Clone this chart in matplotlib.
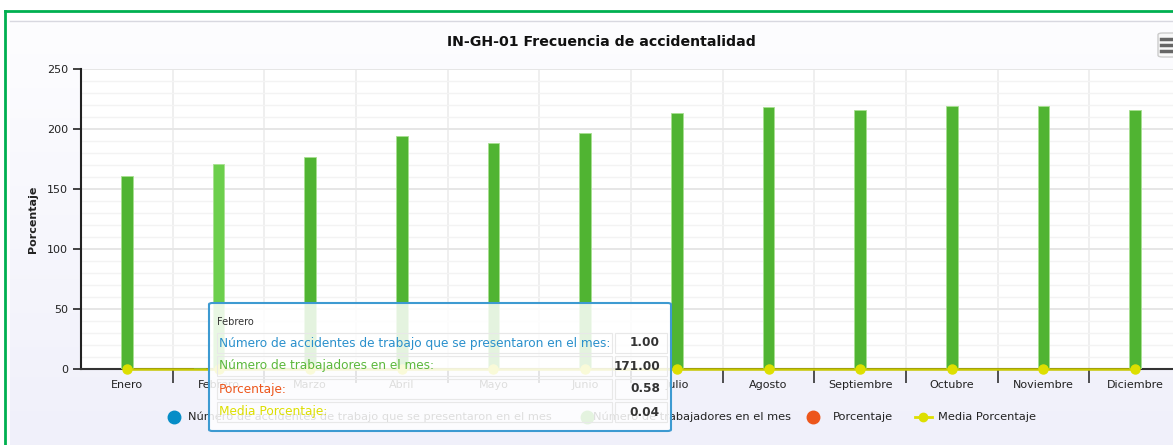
import numpy as np
import matplotlib
matplotlib.use('Agg')
import matplotlib.pyplot as plt
from matplotlib.patches import Rectangle, FancyBboxPatch
from matplotlib.lines import Line2D

meses = ['Enero', 'Febrero', 'Marzo', 'Abril', 'Mayo', 'Junio', 'Julio',
         'Agosto', 'Septiembre', 'Octubre', 'Noviembre', 'Diciembre']
accidentes = [0, 1, 0, 0, 0, 0, 0, 0, 0, 0, 0, 0]
trabajadores = [161, 171, 177, 194, 188, 197, 213, 218, 216, 219, 219, 216]
porcentaje = [0, 0.58, 0, 0, 0, 0, 0, 0, 0, 0, 0, 0]
media = [0.04, 0.04, 0.04, 0.04, 0.04, 0.04, 0.04, 0.04, 0.04, 0.04, 0.04, 0.04]

series_names = ['Número de accidentes de trabajo que se presentaron en el mes',
                'Número de trabajadores en el mes', 'Porcentaje', 'Media Porcentaje']
colors = ['#058DC7', '#50B432', '#ED561B', '#DDDF00']

W, H = 1173, 445
fig = plt.figure(figsize=(W / 100, H / 100), dpi=100)
plt.rcParams['font.family'] = ['DejaVu Sans']

def fx(x):
    return x / W

def fy(y):
    return 1 - y / H

# outer container + green border
grad = np.linspace(0, 1, 100).reshape(-1, 1)
bg = fig.add_axes([fx(10), 0, 1 - fx(10), fy(20)], zorder=-5)
bg.imshow(grad, aspect='auto', extent=[0, 1, 0, 1], origin='upper',
          cmap=matplotlib.colors.LinearSegmentedColormap.from_list('g', ['#fdfdff', '#f0f0fa']))
bg.axis('off')
fig.add_artist(Line2D([fx(10), 1], [fy(20.5), fy(20.5)], color='#d8d8e0', lw=1, zorder=-1))
fig.add_artist(Line2D([fx(5), 1], [fy(10.5), fy(10.5)], color='#00b050', lw=2))
fig.add_artist(Line2D([fx(5), fx(5)], [fy(10.5), 0], color='#00b050', lw=2))

# plot area
left, right, top, bottom = 81, 1181, 69, 369
ax = fig.add_axes([fx(left), fy(bottom), fx(right - left), fy(top) - fy(bottom)])
ax.set_facecolor('white')
x = np.arange(len(meses))
bw = 0.13
ax.bar(x - 0.2, accidentes, bw, color=colors[0], zorder=3)
bcols = [colors[1]] * len(meses)
bcols[1] = '#6ccf4c'
ax.bar(x, trabajadores, bw, color=bcols, edgecolor='#a8e090', linewidth=0.6, zorder=3)
ax.bar(x + 0.2, porcentaje, bw, color=colors[2], zorder=3)
ax.plot(x, media, color='#c8c800', lw=1.8, marker='o', ms=6.5,
        markerfacecolor=colors[3], markeredgecolor=colors[3], zorder=4, clip_on=False)

ax.set_xlim(-0.5, len(meses) - 0.5)
ax.set_ylim(0, 250)
ax.set_yticks(range(0, 251, 50))
ax.set_yticks(range(0, 251, 10), minor=True)
ax.set_xticks(x)
ax.set_xticklabels(meses, fontsize=8, color='#222222')
ax.set_xticks(x[:-1] + 0.5, minor=True)
ax.tick_params(axis='x', which='major', length=0, pad=8)
ax.tick_params(axis='x', which='minor', length=10, width=1.2, color='#333333')
ax.tick_params(axis='y', which='major', length=6, width=1.2, labelsize=8, colors='#222222')
ax.tick_params(axis='y', which='minor', length=0)
ax.grid(axis='y', which='major', color='#e6e6e6', lw=1.4, zorder=0)
ax.grid(axis='y', which='minor', color='#f3f3f3', lw=1, zorder=0)
ax.grid(axis='x', which='minor', color='#ececec', lw=1.2, zorder=0)
for s in ['top', 'right']:
    ax.spines[s].set_visible(False)
ax.spines['left'].set_color('#222222')
ax.spines['left'].set_linewidth(1.5)
ax.spines['bottom'].set_color('#333333')
ax.spines['bottom'].set_linewidth(1.5)
ax.set_ylabel('Porcentaje', fontsize=8, fontweight='bold', color='#222222', labelpad=6)
ax.set_axisbelow(True)

fig.text(fx(601), fy(42), 'IN-GH-01 Frecuencia de accidentalidad', ha='center', va='center',
         fontsize=10.2, fontweight='bold', color='#111111')

# menu button
fig.add_artist(FancyBboxPatch((fx(1158), fy(57)), fx(20), fy(33) - fy(57),
                              boxstyle='round,pad=0,rounding_size=0.004',
                              facecolor='#f8f8f8', edgecolor='#cccccc', lw=1))
for yy in [39, 45, 51]:
    fig.add_artist(Line2D([fx(1161), 1], [fy(yy), fy(yy)], color='#666666', lw=2.5))

# legend
leg_y = fy(417)
items = [(174, 188), (587, 593), (813, 833)]
for (cx, tx), name, c in zip(items, series_names[:3], colors[:3]):
    fig.add_artist(Line2D([fx(cx)], [leg_y], marker='o', ms=9, color=c, lw=0))
    fig.text(fx(tx), leg_y, name, fontsize=8.2, color='#222222', va='center')
fig.add_artist(Line2D([fx(915), fx(932)], [leg_y, leg_y], color=colors[3], lw=2))
fig.add_artist(Line2D([fx(923)], [leg_y], marker='o', ms=6, color=colors[3], lw=0))
fig.text(fx(938), leg_y, series_names[3], fontsize=8.2, color='#222222', va='center')

# tooltip
fig.add_artist(FancyBboxPatch((fx(209), fy(431)), fx(671 - 209), fy(303) - fy(431),
                              boxstyle='round,pad=0,rounding_size=0.003',
                              facecolor=(1, 1, 1, 0.85), edgecolor='#3d9ad1', lw=1.5, zorder=10))
fig.text(fx(217), fy(322), 'Febrero', fontsize=7, color='#333333', va='center', zorder=11)
tip_labels = [n + ':' for n in series_names]
tip_values = ['%.2f' % accidentes[1], '%.2f' % trabajadores[1], '%.2f' % porcentaje[1], '%.2f' % media[1]]
tip_colors = ['#2a90cc', '#5cb83c', '#ed561b', '#dddf00']
for i, (lab, val, c) in enumerate(zip(tip_labels, tip_values, tip_colors)):
    yy = 343 + i * 23
    fig.add_artist(Rectangle((fx(217), fy(yy + 10)), fx(612 - 217), fy(yy - 10) - fy(yy + 10),
                             facecolor='none', edgecolor='#e8e8e8', lw=0.8, zorder=10))
    fig.add_artist(Rectangle((fx(615), fy(yy + 10)), fx(667 - 615), fy(yy - 10) - fy(yy + 10),
                             facecolor='none', edgecolor='#e8e8e8', lw=0.8, zorder=10))
    fig.text(fx(219), fy(yy), lab, fontsize=8.7, color=c, va='center', zorder=11)
    fig.text(fx(660), fy(yy), val, fontsize=8.7, color='#333333', fontweight='bold',
             va='center', ha='right', zorder=11)

fig.savefig('out.png', dpi=100)
